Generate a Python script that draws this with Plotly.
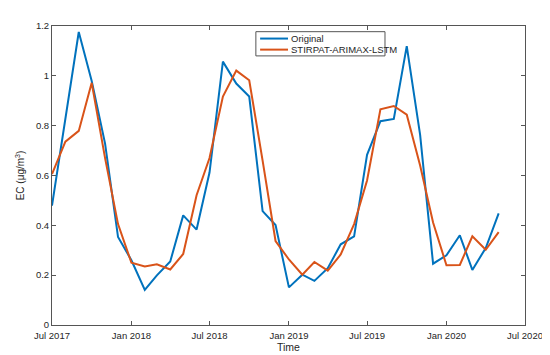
import plotly.graph_objects as go

months = ["2017-07", "2017-08", "2017-09", "2017-10", "2017-11", "2017-12",
          "2018-01", "2018-02", "2018-03", "2018-04", "2018-05", "2018-06",
          "2018-07", "2018-08", "2018-09", "2018-10", "2018-11", "2018-12",
          "2019-01", "2019-02", "2019-03", "2019-04", "2019-05", "2019-06",
          "2019-07", "2019-08", "2019-09", "2019-10", "2019-11", "2019-12",
          "2020-01", "2020-02", "2020-03", "2020-04", "2020-05"]

original = [0.479, 0.82, 1.176, 0.979, 0.728, 0.353,
            0.26, 0.141, 0.199, 0.255, 0.440, 0.383,
            0.612, 1.057, 0.969, 0.917, 0.457, 0.401,
            0.151, 0.202, 0.177, 0.228, 0.324, 0.356,
            0.683, 0.818, 0.827, 1.119, 0.763, 0.246,
            0.280, 0.360, 0.221, 0.309, 0.448]

predicted = [0.606, 0.736, 0.779, 0.972, 0.67, 0.405,
             0.250, 0.235, 0.244, 0.223, 0.285, 0.521,
             0.670, 0.917, 1.021, 0.982, 0.66, 0.337,
             0.263, 0.202, 0.253, 0.218, 0.283, 0.405,
             0.58, 0.866, 0.879, 0.844, 0.64, 0.411,
             0.240, 0.241, 0.356, 0.302, 0.373]

series_names = ["Original", "STIRPAT-ARIMAX-LSTM"]
series_colors = ["#0072BD", "#D95319"]

x_tick_vals = ["2017-07-01", "2018-01-01", "2018-07-01", "2019-01-01",
               "2019-07-01", "2020-01-01", "2020-07-01"]
x_tick_text = ["Jul 2017", "Jan 2018", "Jul 2018", "Jan 2019",
               "Jul 2019", "Jan 2020", "Jul 2020"]
y_tick_vals = [0, 0.2, 0.4, 0.6, 0.8, 1.0, 1.2]
y_tick_text = ["0", "0.2", "0.4", "0.6", "0.8", "1", "1.2"]

dates = [m + "-01" for m in months]

fig = go.Figure()
for name, vals, col in zip(series_names, [original, predicted], series_colors):
    fig.add_trace(go.Scatter(x=dates, y=vals, mode="lines", name=name,
                             line=dict(color=col, width=2), showlegend=False))

axis_col = "#555555"

# Compact MATLAB-style legend box
leg_x0, leg_x1, leg_y0, leg_y1 = 0.431, 0.704, 0.900, 0.981
fig.add_shape(type="rect", xref="paper", yref="paper",
              x0=leg_x0, x1=leg_x1, y0=leg_y0, y1=leg_y1,
              line=dict(color=axis_col, width=1), fillcolor="white", layer="above")
row_y = [0.958, 0.921]
for name, col, yy in zip(series_names, series_colors, row_y):
    fig.add_shape(type="line", xref="paper", yref="paper",
                  x0=0.440, x1=0.499, y0=yy, y1=yy,
                  line=dict(color=col, width=2), layer="above")
    fig.add_annotation(xref="paper", yref="paper", x=0.501, y=yy, text=name,
                       showarrow=False, xanchor="left", yanchor="middle",
                       font=dict(size=9.5, color="#262626"))

fig.update_layout(
    width=550, height=355,
    margin=dict(l=44, r=33, t=13, b=32),
    paper_bgcolor="white", plot_bgcolor="white",
    font=dict(family="Liberation Sans, Arial, sans-serif", size=9.5, color="#262626"),
    showlegend=False,
    xaxis=dict(type="date", range=["2017-07-01", "2020-07-01"],
               tickvals=x_tick_vals, ticktext=x_tick_text,
               showgrid=False, zeroline=False,
               showline=True, linecolor=axis_col, linewidth=1, mirror="ticks",
               ticks="inside", ticklen=4, tickcolor=axis_col, ticklabelstandoff=2,
               title=dict(text="Time", standoff=2, font=dict(size=10.5))),
    yaxis=dict(range=[0, 1.2], tickvals=y_tick_vals, ticktext=y_tick_text,
               showgrid=False, zeroline=False,
               showline=True, linecolor=axis_col, linewidth=1, mirror="ticks",
               ticks="inside", ticklen=4, tickcolor=axis_col,
               title=dict(text="EC (μg/m<sup>3</sup>)", standoff=9, font=dict(size=10))),
)

fig.write_html("out.html")
